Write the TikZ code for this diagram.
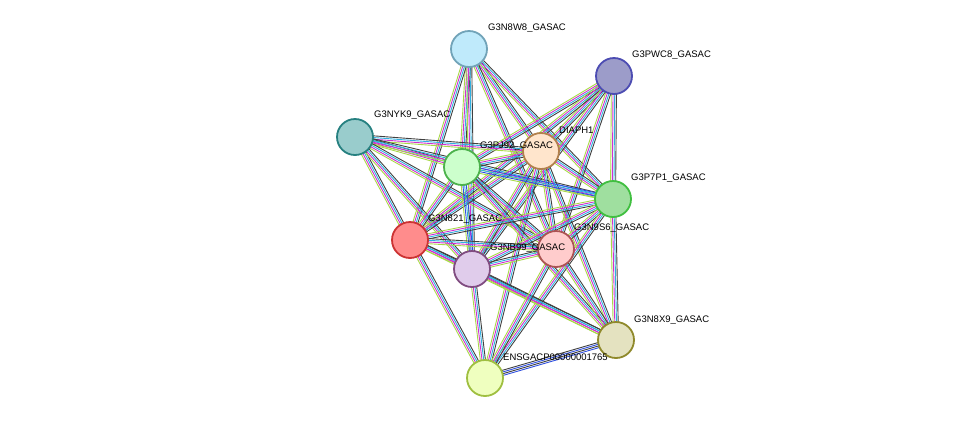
\documentclass[tikz,border=0pt]{standalone}
\usepackage{fontspec}
\setmainfont{Liberation Sans}
\usetikzlibrary{calc}
\definecolor{eg}{HTML}{A8D848}
\definecolor{em}{HTML}{D030D0}
\definecolor{ec}{HTML}{30B0E0}
\definecolor{ek}{HTML}{404040}
\definecolor{eb}{HTML}{3050E0}
\tikzset{prot/.style={circle,draw,line width=1.8pt,minimum size=36pt,inner sep=0pt},
 lab/.style={font=\fontsize{9.5}{11}\selectfont,anchor=west,inner sep=1pt}}
\newcommand{\edg}[3]{%
 \foreach \c [count=\i] in {#3}{%
  \pgfmathsetmacro{\o}{(\i-2.5)*1.7}%
  \draw[\c,line width=0.9pt] ($(#1.center)!\o pt!90:(#2.center)$) -- ($(#2.center)!\o pt!-90:(#1.center)$);}}
\begin{document}
\begin{tikzpicture}[x=1pt,y=-1pt]
\useasboundingbox (0,0) rectangle (976,424);
\coordinate (p1) at (469,49);
\coordinate (p2) at (614,76);
\coordinate (p3) at (355,137);
\coordinate (p4) at (541,151);
\coordinate (p5) at (462,167);
\coordinate (p6) at (613,199);
\coordinate (p7) at (410,240);
\coordinate (p8) at (472,269);
\coordinate (p9) at (556,249);
\coordinate (p10) at (616,340);
\coordinate (p11) at (485,378);
\edg{p1}{p4}{eg,em,ec,ek}
\edg{p1}{p5}{eg,em,ec,ek}
\edg{p1}{p6}{eg,em,ec,ek}
\edg{p1}{p7}{eg,em,ec,ek}
\edg{p1}{p8}{eg,em,ec,ek}
\edg{p1}{p9}{eg,em,ec,ek}
\edg{p2}{p4}{eg,em,ec,ek}
\edg{p2}{p5}{eg,em,ec,ek}
\edg{p2}{p6}{eg,em,ec,ek}
\edg{p2}{p7}{eg,em,ec,ek}
\edg{p2}{p8}{eg,em,ec,ek}
\edg{p2}{p9}{eg,em,ec,ek}
\edg{p3}{p4}{eg,em,ec,ek}
\edg{p3}{p5}{eg,em,ec,ek}
\edg{p3}{p6}{eg,em,ec,ek}
\edg{p3}{p7}{eg,em,ec,ek}
\edg{p3}{p8}{eg,em,ec,ek}
\edg{p3}{p9}{eg,em,ec,ek}
\edg{p4}{p5}{eg,em,ec,ek}
\edg{p4}{p6}{eg,em,ec,ek}
\edg{p4}{p7}{eg,em,ec,ek}
\edg{p4}{p8}{eg,em,ec,ek}
\edg{p4}{p9}{eg,em,ec,ek}
\edg{p4}{p10}{eg,em,ec,ek}
\edg{p4}{p11}{eg,em,ec,ek}
\edg{p5}{p6}{eg,eb,ec,eb}
\edg{p5}{p7}{eg,em,ec,ek}
\edg{p5}{p8}{eg,eb,ec,eb}
\edg{p5}{p9}{eg,em,ec,ek}
\edg{p5}{p10}{eg,em,ec,ek}
\edg{p6}{p7}{eg,em,ec,ek}
\edg{p6}{p8}{eg,em,ec,ek}
\edg{p6}{p9}{eg,em,ec,ek}
\edg{p6}{p10}{eg,em,ec,ek}
\edg{p6}{p11}{eg,em,ec,ek}
\edg{p7}{p8}{eg,em,ec,ek}
\edg{p7}{p9}{eg,em,ec,ek}
\edg{p7}{p10}{eg,em,ec,ek}
\edg{p7}{p11}{eg,em,ec,ek}
\edg{p8}{p9}{eg,em,ec,ek}
\edg{p8}{p10}{eg,em,ec,ek}
\edg{p8}{p11}{eg,em,ec,ek}
\edg{p9}{p10}{eg,em,ec,ek}
\edg{p9}{p11}{eg,em,ec,ek}
\edg{p10}{p11}{ek,eb,ek,eb}
\node[prot,draw=cyan!40!gray,fill=cyan!25] (n1) at (p1) {};
\node[prot,draw=blue!40!gray,fill=blue!30!gray!60] (n2) at (p2) {};
\node[prot,draw=teal!70!gray,fill=teal!40] (n3) at (p3) {};
\node[prot,draw=orange!40!gray,fill=orange!20] (n4) at (p4) {};
\node[prot,draw=green!40!gray,fill=green!20] (n5) at (p5) {};
\node[prot,draw=green!50!gray,fill=green!50!gray!50] (n6) at (p6) {};
\node[prot,draw=red!60!gray,fill=red!45] (n7) at (p7) {};
\node[prot,draw=violet!40!gray,fill=blue!20!violet!20] (n8) at (p8) {};
\node[prot,draw=red!35!gray,fill=red!20] (n9) at (p9) {};
\node[prot,draw=olive!70!gray,fill=yellow!40!gray!40] (n10) at (p10) {};
\node[prot,draw=lime!50!gray,fill=lime!25] (n11) at (p11) {};
\node[lab] at (487,28) {G3N8W8\_GASAC};
\node[lab] at (631,55) {G3PWC8\_GASAC};
\node[lab] at (373,115) {G3NYK9\_GASAC};
\node[lab] at (558,130) {DIAPH1};
\node[lab] at (479,146) {G3PJ92\_GASAC};
\node[lab] at (630,178) {G3P7P1\_GASAC};
\node[lab] at (427,219) {G3N821\_GASAC};
\node[lab] at (489,248) {G3NB99\_GASAC};
\node[lab] at (573,228) {G3N9S6\_GASAC};
\node[lab] at (633,320) {G3N8X9\_GASAC};
\node[lab] at (502,357) {ENSGACP00000001765};
\end{tikzpicture}
\end{document}
